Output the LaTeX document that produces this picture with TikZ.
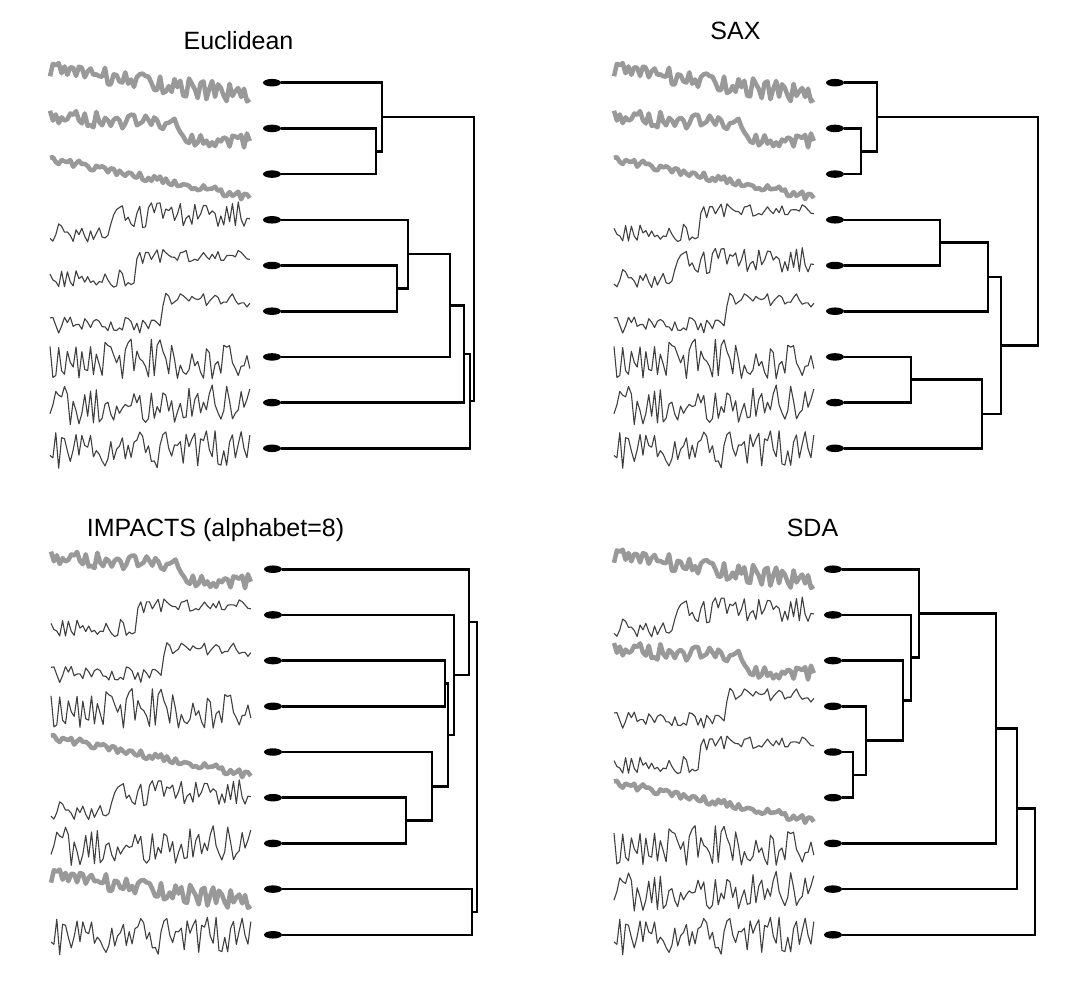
\documentclass[tikz,border=0pt]{standalone}
\usepackage{fontspec}
\setmainfont{Liberation Sans}
\usetikzlibrary{shapes.geometric, calc}

% one series is 200pt wide, drawn round the height of its leaf
\newcommand{\drawseries}[3]{%
  \pgfmathsetseed{#1}%
  \draw[#2] plot[domain=0:1, samples=70] ({200*\x},{#3});}
\newcommand{\serA}{\drawseries{311}{grayts}{-14+26*\x+10*rand}}
\newcommand{\serB}{\drawseries{527}{grayts}{-12+10*\x+14*(\x>0.64)+8*rand}}
\newcommand{\serC}{\drawseries{743}{grayts}{-16+38*\x+4*rand}}
\newcommand{\serD}{\drawseries{1201}{thints}{12-18*(\x>0.31)+(9+4*(\x>0.31))*rand}}
\newcommand{\serE}{\drawseries{1409}{thints}{12-22*(\x>0.43)+(9-2*(\x>0.43))*rand}}
\newcommand{\serF}{\drawseries{1613}{thints}{12-24*(\x>0.56)+(9-2*(\x>0.56))*rand}}
\newcommand{\serG}{\drawseries{2003}{thints}{1+20*rand}}
\newcommand{\serH}{\drawseries{2207}{thints}{1+20*rand}}
\newcommand{\serI}{\drawseries{2411}{thints}{1+20*rand}}

% join two children at x=#2, the join is named #1
\newcommand{\merge}[4]{%
  \path let \p1=($(#3)!0.5!(#4)$) in coordinate (#1) at (#2,\y1);
  \draw[branch] (#3) -| (#1) |- (#4);}

\begin{document}
\begin{tikzpicture}[x=1pt, y=-1pt,
  paneltitle/.style={font=\fontsize{25}{30}\selectfont, inner sep=0pt, anchor=base},
  leaf/.style={ellipse, fill=black, minimum width=18pt, minimum height=7.5pt, inner sep=0pt},
  branch/.style={line width=2.6pt, black},
  grayts/.style={line width=4.5pt, black!40, line join=round},
  thints/.style={line width=1.1pt, black!75, line join=round},
]
  \fill[white, use as bounding box] (0,0) rectangle (1080,983);

  % --- Euclidean ---
  \node[paneltitle] (teuc) at (238.5,49.3) {Euclidean};
  \foreach \s [count=\i] in {A,B,C,D,E,F,G,H,I} {
    \begin{scope}[shift={(50,{83.7+45.7*(\i-1)})}] \csname ser\s\endcsname \end{scope}
    \node[leaf] (e\i) at (272,{82.7+45.7*(\i-1)}) {};
  }
  \merge{e23}{376}{e2}{e3}
  \merge{e13}{382}{e1}{e23}
  \merge{e56}{397}{e5}{e6}
  \merge{e46}{408}{e4}{e56}
  \merge{e47}{450}{e46}{e7}
  \merge{e48}{464}{e47}{e8}
  \merge{e49}{470}{e48}{e9}
  \merge{e19}{474}{e13}{e49}

  % --- SAX ---
  \node[paneltitle] (tsax) at (735.5,39.3) {SAX};
  \foreach \s [count=\i] in {A,B,C,E,D,F,G,H,I} {
    \begin{scope}[shift={(614,{83.7+45.7*(\i-1)})}] \csname ser\s\endcsname \end{scope}
    \node[leaf] (s\i) at (835,{82.7+45.7*(\i-1)}) {};
  }
  \merge{s23}{861}{s2}{s3}
  \merge{s13}{877}{s1}{s23}
  \merge{s45}{940}{s4}{s5}
  \merge{s46}{988}{s45}{s6}
  \merge{s78}{911}{s7}{s8}
  \merge{s79}{982}{s78}{s9}
  \merge{s49}{1001}{s46}{s79}
  \merge{s19}{1038}{s13}{s49}

  % --- IMPACTS ---
  \node[paneltitle, anchor=base west] (timp) at (86.7,536.7) {IMPACTS (alphabet=8)};
  \foreach \s [count=\i] in {B,E,F,G,C,D,H,A,I} {
    \begin{scope}[shift={(51,{570.2+45.7*(\i-1)})}] \csname ser\s\endcsname \end{scope}
    \node[leaf] (i\i) at (273,{569.2+45.7*(\i-1)}) {};
  }
  \merge{i34}{445}{i3}{i4}
  \merge{i67}{406}{i6}{i7}
  \merge{i57}{432}{i5}{i67}
  \merge{i37}{448}{i34}{i57}
  \merge{i27}{454}{i2}{i37}
  \merge{i17}{469}{i1}{i27}
  \merge{i89}{472}{i8}{i9}
  \merge{i19}{477}{i17}{i89}

  % --- SDA ---
  \node[paneltitle] (tsda) at (812.5,536) {SDA};
  \foreach \s [count=\i] in {A,D,B,F,E,C,G,H,I} {
    \begin{scope}[shift={(614,{570.2+45.7*(\i-1)})}] \csname ser\s\endcsname \end{scope}
    \node[leaf] (d\i) at (833,{569.2+45.7*(\i-1)}) {};
  }
  \merge{d56}{853}{d5}{d6}
  \merge{d46}{866}{d4}{d56}
  \merge{d36}{903}{d3}{d46}
  \merge{d26}{911}{d2}{d36}
  \merge{d16}{919}{d1}{d26}
  \merge{d17}{996}{d16}{d7}
  \merge{d18}{1017}{d17}{d8}
  \merge{d19}{1035}{d18}{d9}
\end{tikzpicture}
\end{document}
